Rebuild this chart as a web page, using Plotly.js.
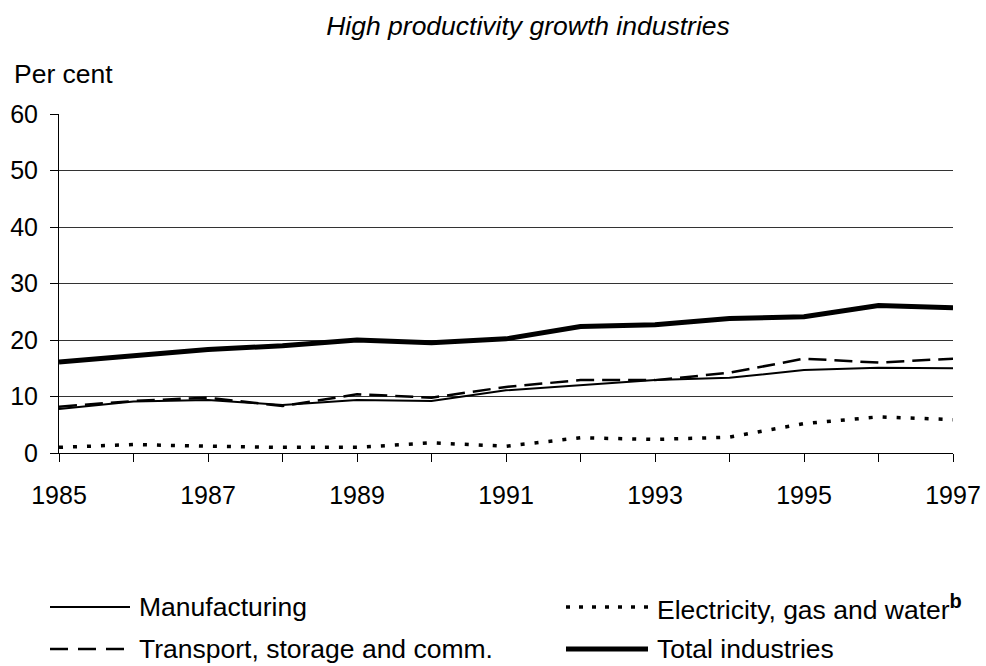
<!DOCTYPE html>
<html>
<head>
<meta charset="utf-8">
<script src="https://cdn.plot.ly/plotly-3.0.1.min.js"></script>
<style>html,body{margin:0;padding:0;background:#fff;}#chart{width:986px;height:666px;}</style>
</head>
<body>
<div id="chart"></div>
<script>
const years = [1985,1986,1987,1988,1989,1990,1991,1992,1993,1994,1995,1996,1997];
const manufacturing = [7.8,9.1,9.4,8.5,9.4,9.2,11.1,12.0,12.9,13.3,14.7,15.1,15.0];
const transport = [8.2,9.2,9.8,8.3,10.4,9.8,11.7,12.9,12.9,14.2,16.7,16.0,16.7];
const electricity = [1.0,1.5,1.2,1.0,1.0,1.8,1.2,2.7,2.4,2.8,5.2,6.4,5.9];
const total = [16.1,17.3,18.3,19.0,20.0,19.5,20.2,22.4,22.7,23.8,24.1,26.1,25.7];
const seriesNames = ['Manufacturing','Transport, storage and comm.','Electricity, gas and water<sup><span style="font-size:20px;font-weight:bold">b</span></sup>','Total industries'];
const xTickVals = [1985,1987,1989,1991,1993,1995,1997];
const xTickText = ['1985','1987','1989','1991','1993','1995','1997'];
const yTickVals = [0,10,20,30,40,50,60];

const FONT = 'Liberation Sans, Arial, sans-serif';
const TXT = 26.5, TICK = 25;
const W = 986, H = 666;
const M = {l:59, r:33, t:114, b:213};
const pw = W - M.l - M.r, ph = H - M.t - M.b;
const px = x => (x - M.l) / pw;
const py = y => (H - M.b - y) / ph;

const styles = [
  {color:'#000', width:2, dash:'solid'},
  {color:'#000', width:2.5, dash:'18px,8px'},
  {color:'#000', width:3.5, dash:'4px,10px'},
  {color:'#000', width:5, dash:'solid'}
];
const legendDash = ['solid','18px,10px','4px,9px','solid'];
const data = [manufacturing, transport, electricity, total];

const traces = data.map((d,i) => ({
  x: years, y: d, type:'scatter', mode:'lines', name: seriesNames[i],
  line: styles[i], showlegend:false, hoverinfo:'skip'
}));

// legend: [x line start, x line end, text x, y]
const legPos = [
  [50,130,137,607],
  [50,130,137,649],
  [566,648,655,607],
  [566,648,655,649]
];
const shapes = [];
const annotations = [];
legPos.forEach((p,i) => {
  shapes.push({type:'line', xref:'paper', yref:'paper', x0:px(p[0]), x1:px(p[1]), y0:py(p[3]), y1:py(p[3]),
    line:{color:'#000', width:Math.min(styles[i].width,5), dash:legendDash[i]}});
  annotations.push({xref:'paper', yref:'paper', x:px(p[2]), y:py(p[3]), xanchor:'left', yanchor:'middle',
    text:seriesNames[i], showarrow:false, font:{family:FONT, size:TXT, color:'#000'}});
});
annotations.push({xref:'paper', yref:'paper', x:px(12), y:py(74), xanchor:'left', yanchor:'middle',
  text:'Per cent', showarrow:false, font:{family:FONT, size:TXT, color:'#000'}});

const layout = {
  width:W, height:H,
  margin:M,
  paper_bgcolor:'#fff', plot_bgcolor:'#fff',
  font:{family:FONT, size:TICK, color:'#000'},
  title:{text:'<i>High productivity growth industries</i>', x:528/W, xanchor:'center', xref:'container',
    y:1-26/H, yanchor:'middle', yref:'container', font:{family:FONT, size:TXT, color:'#000'}},
  xaxis:{range:[1985,1997], tickvals:xTickVals, ticktext:xTickText, ticks:'outside', ticklen:8, tickcolor:'#000',
    tickwidth:1, showline:true, linecolor:'#000', linewidth:1, showgrid:false, zeroline:false,
    ticklabelstandoff:12,
    minor:{tick0:1985, dtick:1, ticks:'outside', ticklen:8, tickcolor:'#000', tickwidth:1, showgrid:false},
    tickfont:{family:FONT, size:TICK, color:'#000'}, fixedrange:true},
  yaxis:{range:[0,60], tickvals:yTickVals, ticks:'outside', ticklen:8, tickcolor:'#000', tickwidth:1,
    showline:true, linecolor:'#000', linewidth:1, showgrid:true, gridcolor:'#333', gridwidth:1, zeroline:false,
    ticklabelstandoff:7,
    tickfont:{family:FONT, size:TICK, color:'#000'}, fixedrange:true},
  shapes: shapes,
  annotations: annotations,
  showlegend:false
};
Plotly.newPlot('chart', traces, layout, {staticPlot:true});
</script>
</body>
</html>
